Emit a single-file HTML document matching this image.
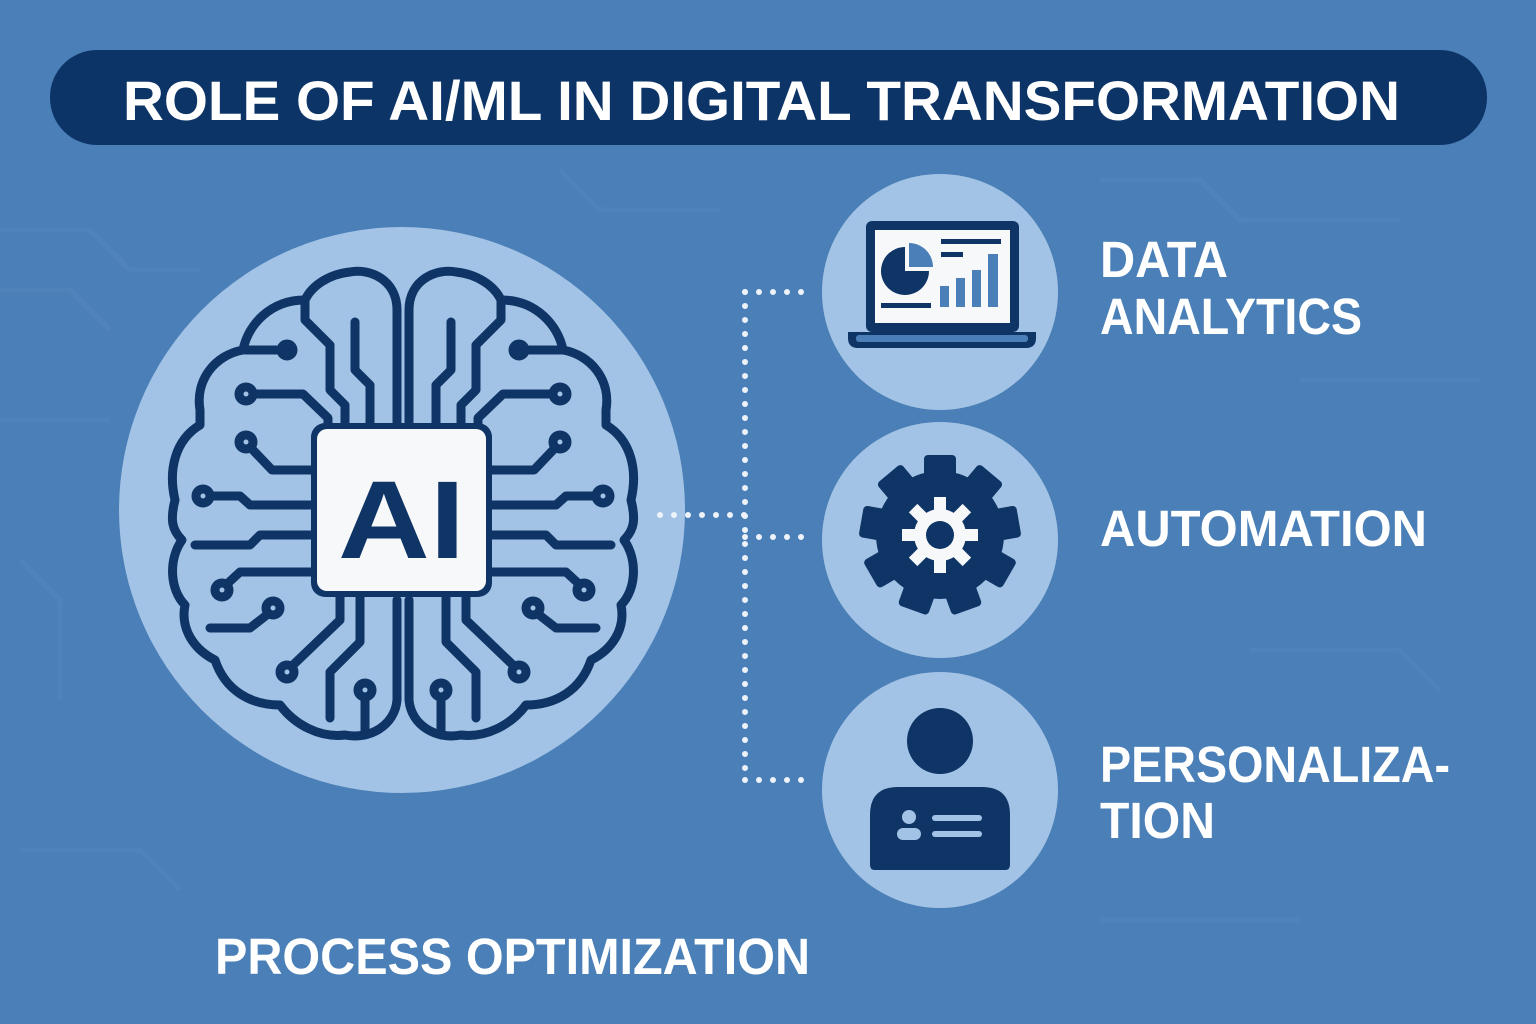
<!DOCTYPE html>
<html><head><meta charset="utf-8"><style>
html,body{margin:0;padding:0;background:#4a7fb7;}
svg{display:block}
text{font-family:"Liberation Sans",sans-serif;font-weight:bold;fill:#fff}
</style></head><body>
<svg width="1536" height="1024" viewBox="0 0 1536 1024" xmlns="http://www.w3.org/2000/svg">
<rect width="1536" height="1024" fill="#4a7fb7"/>
<!-- faint bg circuits -->
<g stroke="#5a8cc2" stroke-width="5" fill="none" opacity="0.35">
<path d="M0 230 H90 L130 270 H200"/><path d="M0 290 H70 L110 330"/><path d="M0 420 H110"/><path d="M20 560 L60 600 V700"/>
<path d="M1100 180 H1200 L1240 220 H1400"/><path d="M1300 380 H1480"/><path d="M1250 650 H1400 L1440 690"/><path d="M1100 920 H1300"/>
<path d="M560 170 L600 210 H720"/><path d="M20 850 H140 L180 890"/>
</g>
<!-- title -->
<rect x="50" y="50" width="1437" height="95" rx="47" fill="#0c3467"/>
<text x="123" y="120" font-size="56" textLength="1277" lengthAdjust="spacingAndGlyphs">ROLE OF AI/ML IN DIGITAL TRANSFORMATION</text>
<!-- big circle -->
<circle cx="402" cy="510" r="283" fill="#a2c3e6"/>
<!-- brain -->
<g stroke="#0e3565" stroke-width="9" fill="none" stroke-linecap="round" stroke-linejoin="round">
<g id="half">
<path d="M397 465 V310 C397 280 370 268 350 272 C330 274 312 285 305 300 C270 300 248 325 243 350 C215 355 195 380 200 410 L200 425 C175 440 168 470 175 500 C170 520 172 530 182 540 C168 560 170 590 185 605 C180 630 195 650 215 660 C225 690 250 705 280 705 C295 725 320 738 345 735 C370 740 395 725 397 700 V600"/>
<path d="M305 300 V320 L330 345 V390 L345 405 V430"/>
<path d="M355 322 V370 L370 385 V430"/>
<path d="M245 350 H287"/><circle cx="287" cy="350" r="6" fill="#0e3565"/>
<circle cx="246" cy="394" r="7"/><path d="M253 394 H303 L328 418 V430"/>
<circle cx="246" cy="442" r="7"/><path d="M251 448 L272 470 H315"/>
<circle cx="203" cy="496" r="7"/><path d="M210 496 H240 L250 505 H315"/>
<path d="M195 545 H250 L260 535 H315"/>
<circle cx="222" cy="590" r="7"/><path d="M227 584 L240 572 H315"/>
<circle cx="273" cy="608" r="7"/><path d="M268 614 L250 628 H210"/>
<circle cx="287" cy="672" r="7"/><path d="M292 666 L340 620 V596"/>
<path d="M330 718 V672 L360 642 V596"/>
<circle cx="365" cy="690" r="7"/><path d="M365 697 V735"/>
</g>
<use href="#half" transform="translate(806,0) scale(-1,1)"/>
</g>
<rect x="311" y="423" width="181" height="174" rx="14" fill="#0e3565"/>
<rect x="317" y="429" width="169" height="162" rx="10" fill="#f7f8fa"/>
<text x="338" y="558" font-size="110" style="fill:#0e3565" textLength="127" lengthAdjust="spacingAndGlyphs">AI</text>
<!-- dotted connectors -->
<g stroke="#eef3fa" stroke-width="6" stroke-linecap="round" stroke-dasharray="0 14" fill="none">
<path d="M660 515 H745"/><path d="M745 292 V780"/><path d="M745 292 H812"/><path d="M745 537 H812"/><path d="M745 780 H812"/>
</g>
<!-- small circles -->
<circle cx="940" cy="292" r="118" fill="#a2c3e6"/>
<circle cx="940" cy="540" r="118" fill="#a2c3e6"/>
<circle cx="940" cy="790" r="118" fill="#a2c3e6"/>
<!-- laptop -->
<rect x="866" y="221" width="153" height="111" rx="6" fill="#0e3565"/>
<rect x="875" y="230" width="135" height="93" fill="#f7f8fa"/>
<path d="M848 332 H1036 V338 Q1036 348 1026 348 H858 Q848 348 848 338 Z" fill="#0e3565"/>
<rect x="856" y="335" width="172" height="7" rx="3" fill="#4a7fb7"/>
<path d="M905 247 A24 24 0 1 0 929 271 H905 Z" fill="#0e3565"/>
<path d="M909 243 A24 24 0 0 1 933 267 H909 Z" fill="#4a7fb7"/>
<rect x="881" y="303" width="50" height="5" fill="#0e3565"/>
<rect x="941" y="239" width="60" height="5" fill="#0e3565"/><rect x="941" y="252" width="22" height="5" fill="#0e3565"/>
<rect x="940" y="286" width="9" height="21" fill="#4a7fb7"/><rect x="956" y="278" width="9" height="29" fill="#4a7fb7"/>
<rect x="972" y="270" width="9" height="37" fill="#4a7fb7"/><rect x="988" y="254" width="10" height="53" fill="#4a7fb7"/>
<!-- gear -->
<g transform="translate(940,535)" fill="#0e3565">
<circle r="64"/>
<g id="t"><rect x="-16" y="-80" width="32" height="28" rx="4"/></g>
<use href="#t" transform="rotate(40)"/><use href="#t" transform="rotate(80)"/><use href="#t" transform="rotate(120)"/><use href="#t" transform="rotate(160)"/><use href="#t" transform="rotate(200)"/><use href="#t" transform="rotate(240)"/><use href="#t" transform="rotate(280)"/><use href="#t" transform="rotate(320)"/>
<g fill="#f7f8fa"><circle r="26"/>
<rect x="-6" y="-38" width="12" height="76"/><rect x="-38" y="-6" width="76" height="12"/>
<rect x="-6" y="-38" width="12" height="76" transform="rotate(45)"/><rect x="-6" y="-38" width="12" height="76" transform="rotate(-45)"/></g>
<circle r="14"/>
</g>
<!-- person -->
<circle cx="940" cy="741" r="33" fill="#0e3565"/>
<path d="M870 865 V815 Q870 787 898 787 H982 Q1010 787 1010 815 V865 Q1010 870 1005 870 H875 Q870 870 870 865 Z" fill="#0e3565"/>
<circle cx="909" cy="817" r="7" fill="#a2c3e6"/><rect x="897" y="828" width="24" height="12" rx="6" fill="#a2c3e6"/>
<rect x="932" y="815" width="50" height="6" rx="3" fill="#a2c3e6"/><rect x="932" y="831" width="50" height="6" rx="3" fill="#a2c3e6"/>
<!-- labels -->
<text x="1100" y="277" font-size="51" textLength="128" lengthAdjust="spacingAndGlyphs">DATA</text>
<text x="1100" y="334" font-size="51" textLength="262" lengthAdjust="spacingAndGlyphs">ANALYTICS</text>
<text x="1100" y="546" font-size="51" textLength="327" lengthAdjust="spacingAndGlyphs">AUTOMATION</text>
<text x="1100" y="782" font-size="51" textLength="350" lengthAdjust="spacingAndGlyphs">PERSONALIZA-</text>
<text x="1100" y="838" font-size="51" textLength="115" lengthAdjust="spacingAndGlyphs">TION</text>
<text x="215" y="974" font-size="51" textLength="595" lengthAdjust="spacingAndGlyphs">PROCESS OPTIMIZATION</text>
</svg>
</body></html>
